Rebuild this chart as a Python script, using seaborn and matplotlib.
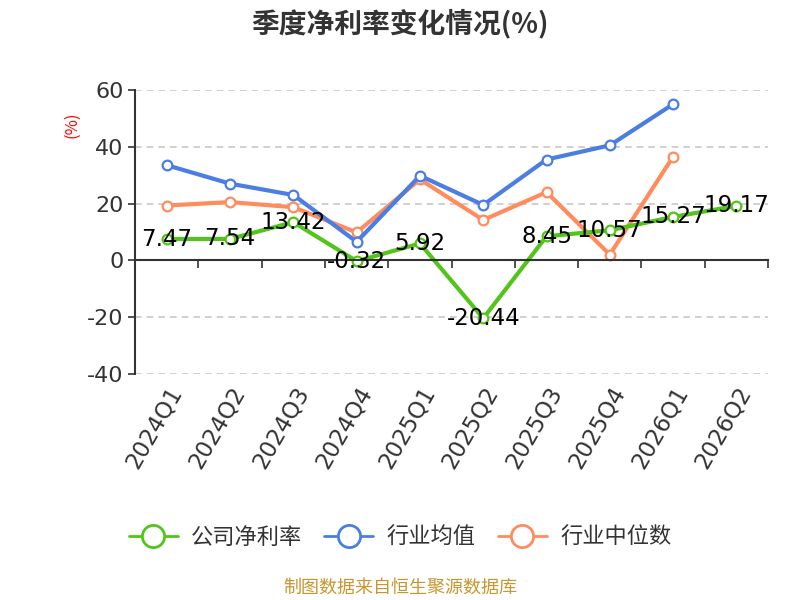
import numpy as np
import pandas as pd
import matplotlib.pyplot as plt
import seaborn as sns
from matplotlib.lines import Line2D

quarters = ['2024Q1', '2024Q2', '2024Q3', '2024Q4', '2025Q1', '2025Q2',
            '2025Q3', '2025Q4', '2026Q1', '2026Q2']
company = [7.47, 7.54, 13.42, -0.32, 5.92, -20.44, 8.45, 10.57, 15.27, 19.17]
industry_mean = [33.5, 27.0, 23.0, 6.5, 29.8, 19.5, 35.5, 40.5, 55.0, np.nan]
industry_median = [19.3, 20.5, 18.7, 9.8, 28.5, 14.2, 24.0, 2.0, 36.5, np.nan]

names = ['公司净利率', '行业均值', '行业中位数']
colors = ['#52c41a', '#4a7ee2', '#ff8c5c']

sns.set_style('white')
plt.rcParams['font.family'] = ['Noto Sans CJK SC', 'DejaVu Sans']

df = pd.DataFrame({'quarter': quarters, names[0]: company,
                   names[1]: industry_mean, names[2]: industry_median})
long = df.melt(id_vars='quarter', var_name='series', value_name='value').dropna()

fig = plt.figure(figsize=(8, 6), dpi=100)
ax = fig.add_axes([0.169, 0.377, 0.791, 0.473])

# draw in reverse so the company line sits on top
for name, color in list(zip(names, colors))[::-1]:
    sub = long[long['series'] == name]
    sns.lineplot(data=sub, x='quarter', y='value', ax=ax, color=color,
                 linewidth=3, marker='o', markersize=7, markerfacecolor='white',
                 markeredgecolor=color, markeredgewidth=1.6, sort=False,
                 legend=False)

for i, v in enumerate(company):
    ax.text(i, v, f'{v:.2f}', ha='center', va='center', fontsize=16.5,
            color='black', family='DejaVu Sans', zorder=10)

ax.set_xlim(-0.5, 9.5)
ax.set_ylim(-40, 60)
ax.set_yticks([-40, -20, 0, 20, 40, 60])
ax.set_yticklabels(['-40', '-20', '0', '20', '40', '60'], fontsize=16,
                   color='#333333', family='DejaVu Sans')
ax.tick_params(axis='y', length=5, width=1.2, color='#333333', left=True)
for y in [-40, -20, 20, 40, 60]:
    ax.axhline(y, color='#c8c8c8', lw=1.2, ls=(0, (4, 3)), zorder=0)

ax.spines['top'].set_visible(False)
ax.spines['right'].set_visible(False)
ax.spines['left'].set_color('#333333')
ax.spines['left'].set_linewidth(1.5)
ax.spines['bottom'].set_position(('data', 0))
ax.spines['bottom'].set_color('#333333')
ax.spines['bottom'].set_linewidth(1.5)

ax.set_xticks(np.arange(0.5, 10, 1.0))
ax.set_xticklabels([])
ax.tick_params(axis='x', length=6, width=1.2, color='#333333', bottom=True)
ax.set_xlabel('')
ax.set_ylabel('')

sec = ax.secondary_xaxis('bottom')
sec.set_xticks(range(len(quarters)))
sec.set_xticklabels(quarters, rotation=60, ha='right', rotation_mode='anchor',
                    fontsize=16.5, color='#333333', family='DejaVu Sans')
sec.tick_params(length=0, pad=6)
sec.spines['bottom'].set_visible(False)

fig.text(0.09, 0.792, '(%)', rotation=90, color='red', fontsize=12,
         ha='center', va='center')
fig.suptitle('季度净利率变化情况(%)', y=0.985, fontsize=20, fontweight='bold',
             color='#333333')

handles = [Line2D([], [], color=c, lw=2, marker='o', markersize=16,
                  markerfacecolor='white', markeredgewidth=2)
           for c in colors]
fig.legend(handles, names, loc='center', bbox_to_anchor=(0.5, 0.105), ncol=3,
           frameon=False, fontsize=16, handlelength=2.2, columnspacing=1.0,
           handletextpad=0.6, labelcolor='#333333')

fig.text(0.5, 0.02, '制图数据来自恒生聚源数据库', ha='center', va='center',
         fontsize=13, color='#c8962e')

fig.savefig('out.png', dpi=100)
